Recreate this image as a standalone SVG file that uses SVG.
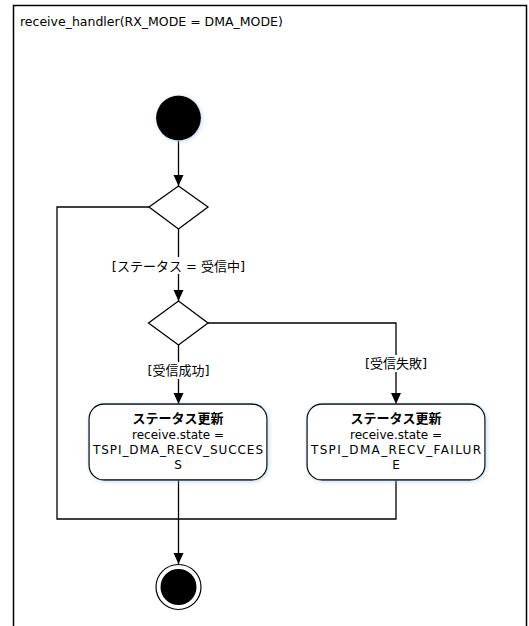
<svg xmlns="http://www.w3.org/2000/svg" width="529" height="626" viewBox="0 0 529 626">
<style>
  .t { font-family: "DejaVu Sans", "Noto Sans CJK JP", sans-serif; fill: #000; }
  .lbl { font-size: 13px; text-anchor: middle; }
  .box { fill: #fff; stroke: #000; stroke-width: 1.3; }
  .conn { fill: none; stroke: #000; stroke-width: 1.3; }
  .bt { font-size: 12px; text-anchor: middle; }
  .bh { font-size: 13px; font-weight: bold; text-anchor: middle; }
</style>
<defs>
  <marker id="arr" markerUnits="userSpaceOnUse" markerWidth="12" markerHeight="12" viewBox="0 0 12 12" refX="11" refY="6" orient="auto">
    <path d="M0,1 L11,6 L0,11 Z" fill="#000"/>
  </marker>
  <filter id="glow" x="-20%" y="-20%" width="140%" height="140%">
    <feGaussianBlur in="SourceAlpha" stdDeviation="2" result="b"/>
    <feOffset dx="1" dy="1" in="b" result="o"/>
    <feFlood flood-color="#9ec3e6" flood-opacity="0.6"/>
    <feComposite in2="o" operator="in" result="s"/>
    <feMerge><feMergeNode in="s"/><feMergeNode in="SourceGraphic"/></feMerge>
  </filter>
</defs>
<rect width="529" height="626" fill="#fff"/>
<g id="frame">
  <path d="M13.5,640 V5.5 H526.5 V640" fill="none" stroke="#000" stroke-width="1.5"/>
  <text class="t" x="20" y="26" font-size="12.5">receive_handler(RX_MODE = DMA_MODE)</text>
</g>
<g id="connectors">
  <line class="conn" x1="178.5" y1="141" x2="178.5" y2="186" marker-end="url(#arr)"/>
  <line class="conn" x1="178.5" y1="229" x2="178.5" y2="301" marker-end="url(#arr)"/>
  <path class="conn" d="M149,207 H57 V519 H178.5"/>
  <line class="conn" x1="178.5" y1="345" x2="178.5" y2="404" marker-end="url(#arr)"/>
  <path class="conn" d="M208,323 H396 V404" marker-end="url(#arr)"/>
  <line class="conn" x1="178.5" y1="480" x2="178.5" y2="564" marker-end="url(#arr)"/>
  <path class="conn" d="M396,480 V519 H178.5"/>
  <rect x="112" y="257" width="133" height="17" fill="#fff"/>
  <text class="t lbl" x="178.5" y="270.5">[ステータス = 受信中]</text>
  <rect x="146" y="362" width="65" height="17" fill="#fff"/>
  <text class="t lbl" x="178.5" y="375">[受信成功]</text>
  <rect x="364" y="355" width="64" height="17" fill="#fff"/>
  <text class="t lbl" x="396" y="368">[受信失敗]</text>
</g>
<g id="start">
  <circle cx="178.5" cy="118" r="22.5" fill="#000" filter="url(#glow)"/>
</g>
<g id="decision1">
  <polygon points="178.5,186 208,207 178.5,229 149,207" fill="#fff" stroke="#000" stroke-width="1.3"/>
</g>
<g id="decision2">
  <polygon points="178.5,301 208,323 178.5,345 148.5,323" fill="#fff" stroke="#000" stroke-width="1.3"/>
</g>
<g id="success">
  <rect class="box" x="89" y="404" width="178" height="76" rx="15" filter="url(#glow)"/>
  <text class="t bh" x="178" y="423">ステータス更新</text>
  <text class="t bt" x="178" y="438.5">receive.state =</text>
  <text class="t bt" x="178" y="454" textLength="170" lengthAdjust="spacing">TSPI_DMA_RECV_SUCCES</text>
  <text class="t bt" x="178" y="469">S</text>
</g>
<g id="failure">
  <rect class="box" x="307" y="404" width="178" height="76" rx="15" filter="url(#glow)"/>
  <text class="t bh" x="396" y="423">ステータス更新</text>
  <text class="t bt" x="396" y="438.5">receive.state =</text>
  <text class="t bt" x="396" y="454" textLength="170" lengthAdjust="spacing">TSPI_DMA_RECV_FAILUR</text>
  <text class="t bt" x="396" y="469">E</text>
</g>
<g id="end">
  <circle cx="178.5" cy="587" r="22.5" fill="#fff" stroke="#000" stroke-width="1.2"/>
  <circle cx="178.5" cy="587" r="18" fill="#000"/>
</g>
</svg>
